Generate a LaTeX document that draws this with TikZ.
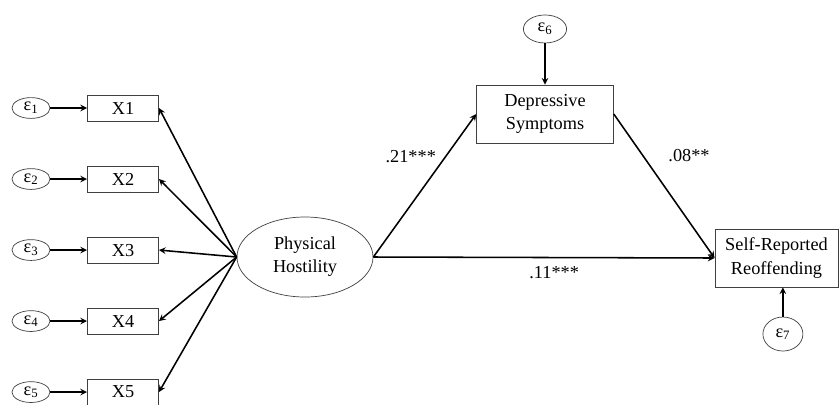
\documentclass[tikz,border=0pt]{standalone}
\usepackage{fontspec}
\setmainfont{Liberation Serif}
\usetikzlibrary{shapes.geometric, arrows}
\tikzstyle{latent} = [ellipse, minimum width=3.4cm, minimum height=2cm, text centered, align=center, draw=black!75, line width=0.5pt]
\tikzstyle{err} = [ellipse, minimum width=0.95cm, minimum height=0.52cm, inner sep=0pt, draw=black!75, line width=0.5pt]
\tikzstyle{indicator} = [rectangle, minimum width=1.78cm, minimum height=0.65cm, text centered, draw=black!75, line width=0.5pt]
\tikzstyle{outcome} = [rectangle, minimum width=3.42cm, minimum height=1.45cm, text centered, align=center, draw=black!75, line width=0.5pt]
\tikzstyle{arrow} = [line width=1.1pt,->,>=stealth]
\begin{document}
\begin{tikzpicture}[x=0.025cm, y=-0.025cm, node distance=2.3cm, every node/.style={font=\fontsize{13}{16.5}\selectfont}]
\useasboundingbox (0,0) rectangle (840,404);

\node (x1) [indicator] at (123,108) {X1};
\node (x2) [indicator, below of=x1, yshift=0.525cm] {X2};
\node (x3) [indicator, below of=x2, yshift=0.525cm] {X3};
\node (x4) [indicator, below of=x3, yshift=0.525cm] {X4};
\node (x5) [indicator, below of=x4, yshift=0.525cm] {X5};
\node (e1) [err, left of=x1] {ε\textsubscript{1}};
\node (e2) [err, left of=x2] {ε\textsubscript{2}};
\node (e3) [err, left of=x3] {ε\textsubscript{3}};
\node (e4) [err, left of=x4] {ε\textsubscript{4}};
\node (e5) [err, left of=x5] {ε\textsubscript{5}};
\node (ph) [latent] at (305,257) {Physical\\Hostility};
\node (dep) [outcome] at (545,114) {Depressive\\Symptoms};
\node (e6) [err, minimum width=1.08cm, minimum height=0.7cm, above of=dep, yshift=-0.175cm] {ε\textsubscript{6}};
\node (rep) [outcome, minimum width=3.08cm] at (776.5,258) {Self-Reported\\Reoffending};
\node (e7) [err, minimum width=1cm, minimum height=0.85cm, below of=rep, yshift=0.4cm, xshift=0.16cm] {ε\textsubscript{7}};

\draw [arrow] (e1) -- (x1);
\draw [arrow] (e2) -- (x2);
\draw [arrow] (e3) -- (x3);
\draw [arrow] (e4) -- (x4);
\draw [arrow] (e5) -- (x5);
\draw [arrow] (ph.west) -- (x1.east);
\draw [arrow] (ph.west) -- (x2.east);
\draw [arrow] (ph.west) -- (x3.east);
\draw [arrow] (ph.west) -- (x4.east);
\draw [arrow] (ph.west) -- (x5.east);
\draw [arrow] (e6) -- (dep);
\draw [arrow] (ph.east) -- node[pos=0.7, left=0.1cm] {.21***} (dep.west);
\draw [arrow] (dep.east) -- node[pos=0.29, right=0.5cm] {.08**} (rep.west);
\draw [arrow] (ph.east) -- node[pos=0.53, below=0.08cm] {.11***} (rep.west);
\draw [arrow] (e7) -- (e7 |- rep.south);
\end{tikzpicture}
\end{document}
